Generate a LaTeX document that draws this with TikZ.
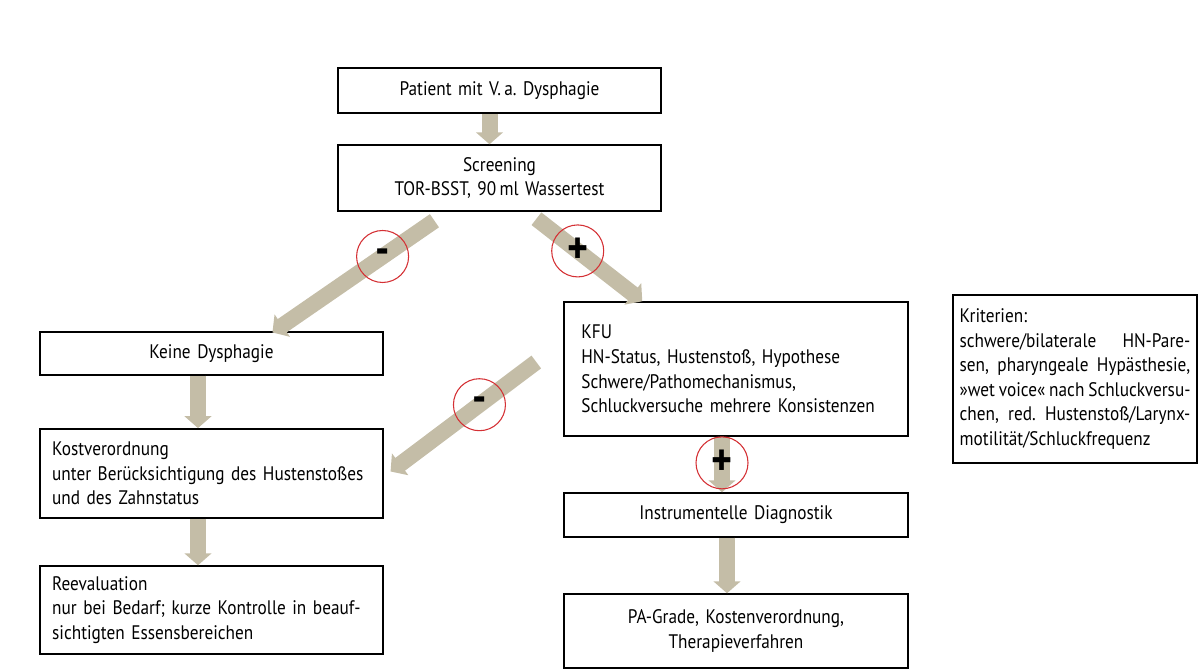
\documentclass[tikz,border=0pt]{standalone}
\usepackage{fontspec}
\setmainfont{PT Sans}[FakeStretch=0.88,WordSpace=0.85]
\usetikzlibrary{arrows.meta,calc}
\frenchspacing

\definecolor{arrowtan}{RGB}{196,189,167}
\definecolor{circred}{RGB}{212,48,52}

\begin{document}
\begin{tikzpicture}[x=0.75pt,y=-0.75pt,
  box/.style={draw,line width=1.1pt,inner xsep=9pt,inner ysep=0pt,
    font=\fontsize{14.7}{18.4}\selectfont},
  flow/.style={line width=12pt,arrowtan,-{Triangle[width=20pt,length=9pt]}},
  sign/.style={circle,draw=circred,line width=0.8pt,minimum size=39pt,
    inner sep=0pt,text=black,font=\bfseries\fontsize{34}{34}\selectfont}]
  \useasboundingbox (0,0) rectangle (1198,671);

  % top
  \node[box,text width=224pt,align=center,minimum height=34pt] (pat) at (499.5,90.5)
    {Patient mit V.\,a. Dysphagie};
  \node[box,text width=224pt,align=center,minimum height=49.5pt] (scr) at (499.5,178)
    {Screening\\TOR-BSST, 90\,ml Wassertest};

  % left column
  \node[box,text width=239pt,align=center,minimum height=32pt] (keine) at (211.5,353.5)
    {Keine Dysphagie};
  \node[box,text width=239pt,align=left,minimum height=67pt] (kost) at (211.5,473.5)
    {Kostverordnung\\unter Berücksichtigung des Hustenstoßes\\und des Zahnstatus};
  \node[box,text width=239pt,align=left,minimum height=66pt] (reeval) at (211.5,610)
    {Reevaluation\\nur bei Bedarf; kurze Kontrolle in beauf-\\sichtigten Essensbereichen};

  % right column
  \node[box,inner xsep=13pt,text width=232pt,align=left,minimum height=100.5pt] (kfu) at (736,369)
    {KFU\\HN-Status, Hustenstoß, Hypothese\\Schwere/Pathomechanismus,\\Schluckversuche mehrere Konsistenzen};
  \node[box,text width=240pt,align=center,minimum height=33pt] (instr) at (736,515)
    {Instrumentelle Diagnostik};
  \node[box,text width=240pt,align=center,minimum height=55.5pt] (pa) at (736,631)
    {PA-Grade, Kostenverordnung,\\Therapieverfahren};

  % criteria (justified lines)
  \node[box,inner xsep=5pt,text width=173pt,align=left,minimum height=126pt] (krit) at (1075,379)
    {\spaceskip=0.2em plus 1fil
     Kriterien:\\
     \makebox[173pt][s]{schwere/bilaterale HN-Pare-}\\
     \makebox[173pt][s]{sen, pharyngeale Hypästhesie,}\\
     \makebox[173pt][s]{»wet voice« nach Schluckversu-}\\
     \makebox[173pt][s]{chen, red. Hustenstoß/Larynx-}\\
     motilität/Schluckfrequenz};

  % arrows
  \draw[flow] ($(pat.south)+(-10,0)$) -- ($(scr.north)+(-10,0)$);
  \draw[flow] ($(scr.south west)+(97,9)$) -- node[sign,pos=0.32] {-} ($(keine.north west)+(233,1)$);
  \draw[flow] ($(scr.south west)+(199,7)$) -- node[sign,pos=0.39] {+} ($(kfu.north west)+(79,0)$);
  \draw[flow] ($(kfu.west)+(-27,-7)$) -- node[sign,pos=0.39] {-} ($(kost.east)+(7,-2)$);
  \draw[flow] ($(kfu.south)+(-14,0)$) -- node[sign,pos=0.47] {+} ($(instr.north)+(-14,0)$);
  \draw[flow] ($(instr.south)+(-9,0)$) -- ($(pa.north)+(-9,0)$);
  \draw[flow] ($(keine.south)+(-13.5,0)$) -- ($(kost.north)+(-13.5,0)$);
  \draw[flow] ($(kost.south)+(-13.5,0)$) -- ($(reeval.north)+(-13.5,0)$);
\end{tikzpicture}
\end{document}
